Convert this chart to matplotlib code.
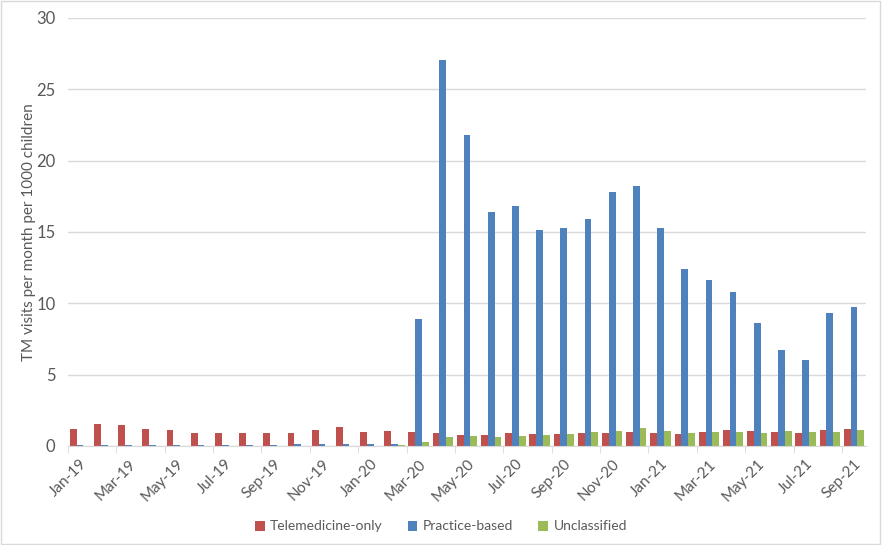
import numpy as np
import matplotlib.pyplot as plt

# monthly telemedicine visits per 1000 children
months = ['Jan-19', 'Feb-19', 'Mar-19', 'Apr-19', 'May-19', 'Jun-19', 'Jul-19', 'Aug-19',
          'Sep-19', 'Oct-19', 'Nov-19', 'Dec-19', 'Jan-20', 'Feb-20', 'Mar-20', 'Apr-20',
          'May-20', 'Jun-20', 'Jul-20', 'Aug-20', 'Sep-20', 'Oct-20', 'Nov-20', 'Dec-20',
          'Jan-21', 'Feb-21', 'Mar-21', 'Apr-21', 'May-21', 'Jun-21', 'Jul-21', 'Aug-21', 'Sep-21']
telemedicine = [1.21, 1.52, 1.45, 1.17, 1.14, 0.93, 0.89, 0.93, 0.89, 0.89, 1.10, 1.35,
                1.00, 1.05, 1.00, 0.89, 0.77, 0.77, 0.91, 0.84, 0.84, 0.89, 0.89, 0.98,
                0.91, 0.86, 0.96, 1.12, 1.05, 1.00, 0.91, 1.12, 1.21]
practice = [0.08, 0.08, 0.08, 0.08, 0.08, 0.08, 0.08, 0.08, 0.08, 0.12, 0.12, 0.12,
            0.12, 0.12, 8.9, 27.05, 21.8, 16.4, 16.8, 15.1, 15.3, 15.9, 17.8, 18.2,
            15.3, 12.4, 11.6, 10.8, 8.6, 6.7, 6.0, 9.3, 9.7]
unclassified = [0.01, 0.01, 0.01, 0.01, 0.01, 0.01, 0.01, 0.01, 0.01, 0.01, 0.01, 0.01,
                0.01, 0.04, 0.30, 0.63, 0.70, 0.65, 0.70, 0.75, 0.84, 0.96, 1.03, 1.24,
                1.07, 0.91, 0.98, 0.98, 0.91, 1.07, 0.98, 0.96, 1.12]

plt.rcParams['font.family'] = ['Lato', 'DejaVu Sans']
txt = '#595959'

fig = plt.figure(figsize=(8.82, 5.45), dpi=100)
ax = fig.add_axes([0.077, 0.182, 0.905, 0.785])

x = np.arange(len(months))
w = 0.28
ax.bar(x - w, telemedicine, w, color='#C0504D', label='Telemedicine-only')
ax.bar(x, practice, w, color='#4F81BD', label='Practice-based')
ax.bar(x + w, unclassified, w, color='#9BBB59', label='Unclassified')

ax.set_xlim(-0.5, len(months) - 0.5)
ax.set_ylim(0, 30)
ax.set_yticks(range(0, 31, 5))
ax.yaxis.grid(True, color='#D9D9D9', linewidth=1)
ax.set_axisbelow(True)

ax.set_xticks(x[::2])
ax.set_xticklabels(months[::2], rotation=45, ha='right', rotation_mode='anchor')
ax.set_xticks(np.arange(-0.5, len(months) - 1, 2), minor=True)
ax.tick_params(axis='x', which='major', length=0, pad=8, labelsize=11, labelcolor=txt)
ax.tick_params(axis='x', which='minor', length=5, color='#D9D9D9')
ax.tick_params(axis='y', length=0, pad=9, labelsize=12, labelcolor=txt)

for s in ['top', 'right', 'left']:
    ax.spines[s].set_visible(False)
ax.spines['bottom'].set_color('#D9D9D9')

ax.set_ylabel('TM visits per month per 1000 children', color=txt, fontsize=11)
ax.yaxis.set_label_coords(-0.04, 0.5)

fig.legend(loc='lower center', bbox_to_anchor=(0.5, 0.0), ncol=3, frameon=False,
           fontsize=10, labelcolor=txt, handlelength=0.7, handleheight=0.7,
           handletextpad=0.4, columnspacing=1.8)

# light frame around the whole chart
fig.patches.append(plt.Rectangle((0.001, 0.001), 0.997, 0.997, transform=fig.transFigure,
                                 fill=False, edgecolor='#D9D9D9', linewidth=1))

fig.savefig('out.png', dpi=100)
